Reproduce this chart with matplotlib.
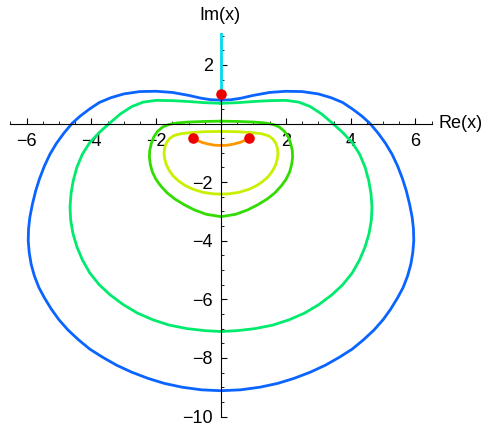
import matplotlib
matplotlib.use("Agg")
import matplotlib.pyplot as plt
from matplotlib.ticker import MultipleLocator, FixedLocator

plt.rcParams['font.family'] = ['Liberation Sans', 'DejaVu Sans']

# Outer (blue) closed curve: right half (top -> bottom), then left half (bottom -> top)
blue_right_x = [0, 0.3, 0.6, 1.0, 1.5, 2.0, 2.5, 3.0, 3.4, 3.75, 4.05, 4.35, 4.6, 4.85, 5.08,
                5.28, 5.45, 5.6, 5.72, 5.82, 5.9, 5.94, 5.95, 5.92, 5.86, 5.76, 5.62, 5.45,
                5.24, 5.0, 4.72, 4.4, 4.05, 3.65, 3.22, 2.75, 2.25, 1.75, 1.2, 0.6, 0]
blue_right_y = [0.80, 0.81, 0.86, 0.96, 1.06, 1.10, 1.09, 1.01, 0.88, 0.72, 0.50, 0.25, 0.0,
                -0.33, -0.68, -1.05, -1.45, -1.88, -2.3, -2.75, -3.2, -3.6, -4.0, -4.4, -4.8,
                -5.2, -5.6, -5.95, -6.33, -6.7, -7.05, -7.38, -7.7, -7.98, -8.25, -8.49, -8.7,
                -8.87, -9.0, -9.09, -9.12]
blue_left_x = [-0.6, -1.2, -1.75, -2.25, -2.75, -3.22, -3.65, -4.05, -4.4, -4.72, -5.0, -5.24,
               -5.45, -5.62, -5.76, -5.86, -5.92, -5.95, -5.94, -5.9, -5.82, -5.72, -5.6,
               -5.45, -5.28, -5.08, -4.85, -4.6, -4.35, -4.05, -3.75, -3.4, -3.0, -2.5, -2.0,
               -1.5, -1.0, -0.6, -0.3, 0]
blue_left_y = [-9.09, -9.0, -8.87, -8.7, -8.49, -8.25, -7.98, -7.7, -7.38, -7.05, -6.7, -6.33,
               -5.95, -5.6, -5.2, -4.8, -4.4, -4.0, -3.6, -3.2, -2.75, -2.3, -1.88, -1.45,
               -1.05, -0.68, -0.33, 0.0, 0.25, 0.50, 0.72, 0.88, 1.01, 1.09, 1.10, 1.06, 0.96,
               0.86, 0.81, 0.80]

# Second (spring green) closed curve
green1_right_x = [0, 0.5, 1.0, 1.5, 2.0, 2.4, 2.75, 3.1, 3.45, 3.75, 4.05, 4.28, 4.45, 4.56,
                  4.63, 4.66, 4.64, 4.57, 4.45, 4.28, 4.05, 3.76, 3.42, 3.02, 2.58, 2.1, 1.6,
                  1.05, 0.5, 0]
green1_right_y = [0.69, 0.71, 0.75, 0.78, 0.79, 0.73, 0.58, 0.33, 0.0, -0.3, -0.65, -1.05,
                  -1.5, -1.95, -2.4, -2.85, -3.3, -3.75, -4.2, -4.65, -5.1, -5.5, -5.85, -6.18,
                  -6.47, -6.7, -6.88, -7.0, -7.07, -7.1]
green1_left_x = [-0.5, -1.05, -1.6, -2.1, -2.58, -3.02, -3.42, -3.76, -4.05, -4.28, -4.45,
                 -4.57, -4.64, -4.66, -4.63, -4.56, -4.45, -4.28, -4.05, -3.75, -3.45, -3.1,
                 -2.75, -2.4, -2.0, -1.5, -1.0, -0.5, 0]
green1_left_y = [-7.07, -7.0, -6.88, -6.7, -6.47, -6.18, -5.85, -5.5, -5.1, -4.65, -4.2, -3.75,
                 -3.3, -2.85, -2.4, -1.95, -1.5, -1.05, -0.65, -0.3, 0.0, 0.33, 0.58, 0.73,
                 0.79, 0.78, 0.75, 0.71, 0.69]

# Third (green) closed curve
green2_right_x = [0, 0.5, 1.0, 1.35, 1.6, 1.8, 1.96, 2.07, 2.15, 2.2, 2.21, 2.18, 2.12, 2.01,
                  1.86, 1.66, 1.42, 1.14, 0.82, 0.45, 0]
green2_right_y = [0.08, 0.07, 0.05, 0.02, -0.03, -0.12, -0.27, -0.45, -0.68, -0.92, -1.15,
                  -1.4, -1.65, -1.9, -2.13, -2.37, -2.58, -2.77, -2.95, -3.1, -3.18]
green2_left_x = [-0.45, -0.82, -1.14, -1.42, -1.66, -1.86, -2.01, -2.12, -2.18, -2.21, -2.2,
                 -2.15, -2.07, -1.96, -1.8, -1.6, -1.35, -1.0, -0.5, 0]
green2_left_y = [-3.1, -2.95, -2.77, -2.58, -2.37, -2.13, -1.9, -1.65, -1.4, -1.15, -0.92,
                 -0.68, -0.45, -0.27, -0.12, -0.03, 0.02, 0.05, 0.07, 0.08]

# Fourth (yellow-green) closed curve
yellow_right_x = [0, 0.5, 0.95, 1.25, 1.47, 1.6, 1.69, 1.74, 1.76, 1.74, 1.69, 1.6, 1.47,
                  1.3, 1.1, 0.85, 0.55, 0.25, 0]
yellow_right_y = [-0.27, -0.28, -0.31, -0.35, -0.42, -0.53, -0.67, -0.84, -1.02, -1.2, -1.4,
                  -1.6, -1.8, -1.97, -2.12, -2.25, -2.35, -2.4, -2.41]
yellow_left_x = [-0.25, -0.55, -0.85, -1.1, -1.3, -1.47, -1.6, -1.69, -1.74, -1.76, -1.74,
                 -1.69, -1.6, -1.47, -1.25, -0.95, -0.5, 0]
yellow_left_y = [-2.4, -2.35, -2.25, -2.12, -1.97, -1.8, -1.6, -1.4, -1.2, -1.02, -0.84,
                 -0.67, -0.53, -0.42, -0.35, -0.31, -0.28, -0.27]

# Orange arc between the two lower points
orange_x = [-0.87, -0.75, -0.6, -0.4, -0.2, 0, 0.2, 0.4, 0.6, 0.75, 0.87]
orange_y = [-0.49, -0.57, -0.64, -0.70, -0.74, -0.75, -0.74, -0.70, -0.64, -0.57, -0.49]

# Cyan segment on the imaginary axis
cyan_x = [0, 0]
cyan_y = [1.0, 3.05]

# Red points
red_x = [0, -0.866, 0.866]
red_y = [1.0, -0.5, -0.5]

x_major = [-6, -4, -2, 2, 4, 6]
y_major = [2, -2, -4, -6, -8, -10]

W, H = 484, 426
fig = plt.figure(figsize=(W / 100, H / 100), dpi=100)

xlim = (-6.5, 6.5)
ylim = (-10, 3.1)
px0, px1 = 10.4, 431.6
py_bottom, py_top = 416.5, 123.5 - 3.1 * 29.3
ax = fig.add_axes([px0 / W, (H - py_bottom) / H, (px1 - px0) / W, (py_bottom - py_top) / H])
ax.set_xlim(*xlim)
ax.set_ylim(*ylim)

lw = 2.0
curves = [
    (blue_right_x + blue_left_x, blue_right_y + blue_left_y, '#0a64ff'),
    (green1_right_x + green1_left_x, green1_right_y + green1_left_y, '#00eb6e'),
    (green2_right_x + green2_left_x, green2_right_y + green2_left_y, '#33dc00'),
    (yellow_right_x + yellow_left_x, yellow_right_y + yellow_left_y, '#c8f000'),
]
for xs, ys, c in curves:
    ax.plot(xs, ys, color=c, lw=lw, solid_joinstyle='round')
ax.plot(orange_x, orange_y, color='#ff9600', lw=lw, solid_capstyle='round', solid_joinstyle='round')
ax.plot(cyan_x, cyan_y, color='#00dcf0', lw=lw, zorder=4)
ax.scatter(red_x, red_y, s=58, color='#ee0000', zorder=5, linewidths=0)

for s in ['top', 'right']:
    ax.spines[s].set_visible(False)
ax.spines['left'].set_position(('data', 0))
ax.spines['bottom'].set_position(('data', 0))
ax.spines['left'].set_linewidth(0.8)
ax.spines['bottom'].set_linewidth(0.8)

ax.xaxis.set_major_locator(FixedLocator(x_major))
ax.yaxis.set_major_locator(FixedLocator(y_major))
ax.xaxis.set_minor_locator(MultipleLocator(0.5))
ax.yaxis.set_minor_locator(MultipleLocator(0.5))
ax.set_xticklabels([f"\u2212{abs(v)}" if v < 0 else str(v) for v in x_major])
ax.set_yticklabels([f"\u2212{abs(v)}" if v < 0 else str(v) for v in y_major])
ax.tick_params(which='major', direction='in', length=4, width=0.8, labelsize=13, pad=7)
ax.tick_params(which='minor', direction='in', length=2.3, width=0.6)
ax.tick_params(axis='y', pad=6)

fig.text(220 / W, 1 - 15 / H, "Im(x)", ha='center', va='center', fontsize=13)
fig.text(483 / W, 1 - 124 / H, "Re(x)", ha='right', va='center', fontsize=13)

fig.savefig("out.png", dpi=100)
